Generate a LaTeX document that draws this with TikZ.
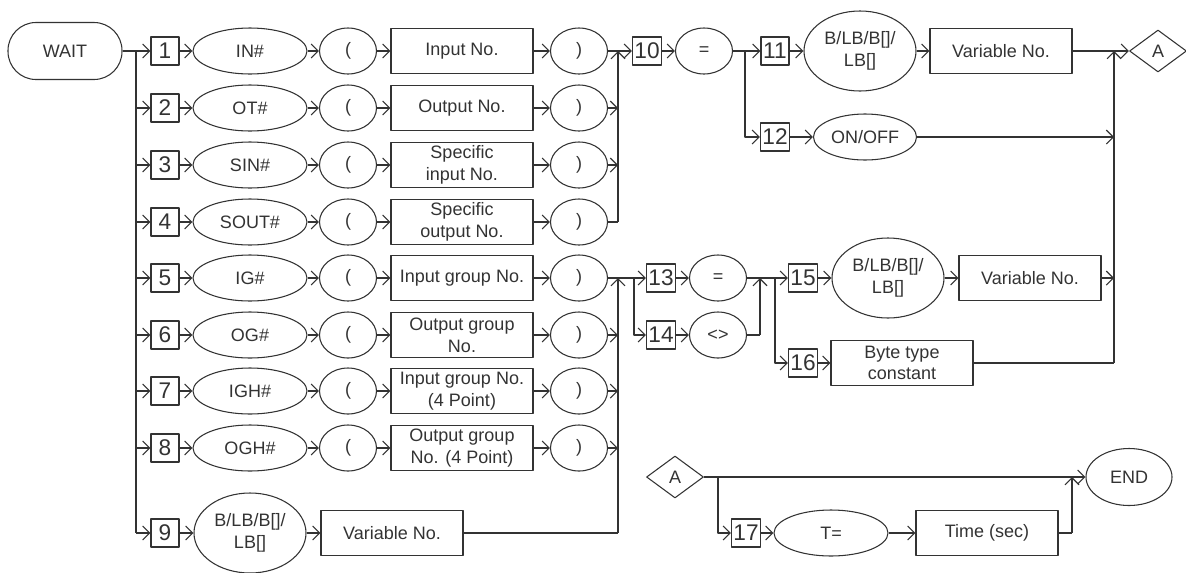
\documentclass[tikz,border=0pt]{standalone}
\usepackage{fontspec}
\setmainfont{Liberation Sans}
\usetikzlibrary{arrows.meta,shapes.geometric}
\definecolor{syntaxline}{HTML}{333333}
\newcommand{\twolines}[2]{\makebox[0pt]{\begin{tabular}{@{}c@{}}#1\\#2\end{tabular}}}

\begin{document}
\begin{tikzpicture}[
  x=0.75pt,
  y=-0.75pt,
  line join=round,
  every node/.style={draw=syntaxline,text=syntaxline,line width=0.8pt,inner sep=0pt,
    font=\fontsize{13.5}{16.3}\selectfont},
  numbox/.style={rectangle,minimum width=21pt,minimum height=21pt,inner xsep=1.5pt,
    font=\fontsize{17}{20}\selectfont},
  kw/.style={ellipse,minimum width=85.5pt,minimum height=34.5pt},
  paren/.style={ellipse,minimum width=42.75pt,minimum height=34.5pt},
  field/.style={rectangle,minimum width=106.5pt,minimum height=33.75pt,align=center},
  bigkw/.style={ellipse,minimum width=84pt,minimum height=60pt},
  term/.style={rectangle,rounded corners=21pt,minimum width=85.5pt,minimum height=42.75pt},
  conn/.style={diamond,minimum width=42.75pt,minimum height=31.5pt},
  link/.style={draw=syntaxline,line width=0.8pt},
  arr/.style={link,-{Straight Barb[length=5.25pt,width=10.5pt]}}
]
  \useasboundingbox (0,0) rectangle (1186,572);

  % Start of the statement and the left branch bus.
  \node[term] (wait) at (65,51) {WAIT};
  \coordinate (busL) at (136,51);

  % Rows 1-8: keyword ( number ).
  \foreach \i/\y/\kwd/\fld in {1/51/IN\#/Input No.,
      2/108/OT\#/Output No.,
      3/165/SIN\#/{Specific\\input No.},
      4/222/SOUT\#/{Specific\\output No.},
      5/278/IG\#/Input group No.,
      6/335/OG\#/{Output group\\No.},
      7/391/IGH\#/{Input group No.\\(4 Point)},
      8/448/OGH\#/{Output group\\No. (4 Point)}} {
    \node[numbox] (b\i) at (165,\y) {\i};
    \node[kw] (k\i) at (250,\y) {\kwd};
    \node[paren] (lp\i) at (348,\y) {(};
    \node[field] (f\i) at (462,\y) {\fld};
    \node[paren] (rp\i) at (579,\y) {)};
    \draw[arr] (b\i) -- (k\i);
    \draw[arr] (k\i) -- (lp\i);
    \draw[arr] (lp\i) -- (f\i);
    \draw[arr] (f\i) -- (rp\i);
  }

  % Row 9: variable.
  \node[numbox] (b9) at (165,533) {9};
  \node[bigkw] (k9) at (250,533) {\twolines{B/LB/B[]/}{LB[]}};
  \node[field] (f9) at (392,533) {Variable No.};
  \draw[arr] (b9) -- (k9);
  \draw[arr] (k9) -- (f9);

  \draw[arr] (wait) -- (b1);
  \draw[link] (busL) -- (busL |- b9);
  \foreach \i in {2,...,9}
    \draw[arr] (busL |- b\i) -- (b\i);

  % Bit rows 1-4 join, then = and the value.
  \coordinate (mergeA) at (618,51);
  \draw[link] (rp4) -- (mergeA |- rp4);
  \draw[arr] (mergeA |- rp4) -- (mergeA);
  \foreach \i in {2,3}
    \draw[arr] (rp\i) -- (mergeA |- rp\i);

  \node[numbox] (b10) at (647,51) {10};
  \node[paren] (eq10) at (704,51) {=};
  \coordinate (split10) at (745,51);
  \node[numbox] (b11) at (775,51) {11};
  \node[bigkw] (k11) at (860,51) {\twolines{B/LB/B[]/}{LB[]}};
  \node[field] (f11) at (1001,51) {Variable No.};
  \node[conn] (A1) at (1158,51) {A};
  \node[numbox] (b12) at (775,137) {12};
  \node[kw,minimum width=77.25pt] (onoff) at (865,137) {ON/OFF};

  \draw[arr] (rp1) -- (b10);
  \draw[arr] (b10) -- (eq10);
  \draw[arr] (eq10) -- (b11);
  \draw[arr] (split10) |- (b12);
  \draw[arr] (b11) -- (k11);
  \draw[arr] (k11) -- (f11);
  \draw[arr] (f11) -- (A1);
  \draw[arr] (b12) -- (onoff);

  % Group rows 5-9 join, then = or <> and the value.
  \coordinate (mergeB) at (618,278);
  \coordinate (split5) at (634,278);
  \draw[link] (f9) -- (mergeB |- f9);
  \draw[arr] (mergeB |- f9) -- (mergeB);
  \foreach \i in {6,7,8}
    \draw[arr] (rp\i) -- (mergeB |- rp\i);

  \node[numbox] (b13) at (661,278) {13};
  \node[paren] (eq13) at (718,278) {=};
  \node[numbox] (b14) at (661,335) {14};
  \node[paren] (ne14) at (718,335) {<>};
  \coordinate (mergeC) at (760,278);
  \coordinate (split13) at (775,278);
  \node[numbox] (b15) at (803,278) {15};
  \node[bigkw] (k15) at (888,278) {\twolines{B/LB/B[]/}{LB[]}};
  \node[field] (f15) at (1030,278) {Variable No.};
  \node[numbox] (b16) at (803,363) {16};
  \node[field] (byte) at (902,363) {Byte type\\constant};

  \draw[arr] (rp5) -- (b13);
  \draw[arr] (split5) |- (b14);
  \draw[arr] (b13) -- (eq13);
  \draw[arr] (b14) -- (ne14);
  \draw[link] (ne14) -- (mergeC |- ne14);
  \draw[arr] (mergeC |- ne14) -- (mergeC);
  \draw[arr] (eq13) -- (b15);
  \draw[arr] (split13) |- (b16);
  \draw[arr] (b15) -- (k15);
  \draw[arr] (k15) -- (f15);
  \draw[arr] (b16) -- (byte);

  % Right bus into connector A.
  \coordinate (busR) at (1114,51);
  \draw[link] (byte) -- (busR |- byte);
  \draw[arr] (busR |- byte) -- (busR);
  \draw[arr] (onoff) -- (busR |- onoff);
  \draw[arr] (f15) -- (busR |- f15);

  % Continuation from A: optional timeout, then END.
  \node[conn] (A2) at (675,477) {A};
  \node[ellipse,minimum width=64.5pt,minimum height=42.75pt] (endn) at (1129,477) {END};
  \coordinate (splitA) at (718,477);
  \node[numbox] (b17) at (746,533) {17};
  \node[kw] (teq) at (831,533) {T=};
  \node[field] (time) at (987,533) {Time (sec)};
  \coordinate (mergeD) at (1072,477);

  \draw[arr] (A2) -- (endn);
  \draw[arr] (splitA) |- (b17);
  \draw[arr] (b17) -- (teq);
  \draw[arr] (teq) -- (time);
  \draw[link] (time) -- (mergeD |- time);
  \draw[arr] (mergeD |- time) -- (mergeD);
\end{tikzpicture}
\end{document}
